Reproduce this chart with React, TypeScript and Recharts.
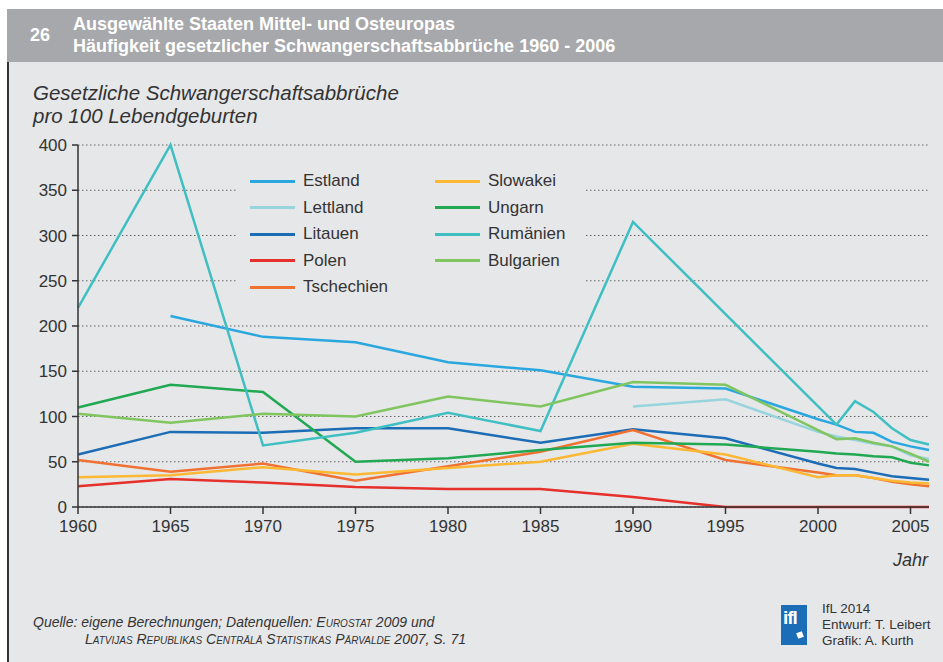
import { LineChart, Line, XAxis, YAxis, CartesianGrid } from "recharts";

const YEARS = [1960, 1965, 1970, 1975, 1980, 1985, 1990, 1995, 2000, 2001, 2002, 2003, 2004, 2005, 2006];

const ESTLAND = [null, 211, 188, 182, 160, 151, 133, 131, 97, 91, 83, 82, 72, 67, 63];
const LETTLAND = [null, null, null, null, null, null, 111, 119, 83, 78, 74, 70, 67, 57, 53];
const LITAUEN = [58, 83, 82, 87, 87, 71, 86, 76, 48, 43, 42, 38, 34, 32, 30];
const POLEN = [23, 31, 27, 22, 20, 20, 11, 0, 0, 0, 0, 0, 0, 0, 0];
const TSCHECHIEN = [52, 39, 48, 29, 45, 61, 85, 52, 38, 35, 35, 32, 28, 25, 23];
const SLOWAKEI = [33, 35, 44, 36, 43, 50, 70, 58, 33, 35, 35, 32, 29, 27, 26];
const UNGARN = [110, 135, 127, 50, 54, 63, 71, 69, 61, 59, 58, 56, 55, 49, 46];
const RUMAENIEN = [220, 400, 68, 82, 104, 84, 315, null, null, 91, 117, 105, 87, 74, 69];
const BULGARIEN = [103, 93, 103, 100, 122, 111, 138, 135, 85, 75, 76, 71, 67, 59, 50];

const X_TICKS = [1960, 1965, 1970, 1975, 1980, 1985, 1990, 1995, 2000, 2005];
const Y_TICKS = [0, 50, 100, 150, 200, 250, 300, 350, 400];

const SERIES = [
  { key: "estland", name: "Estland", color: "#2aa7df", values: ESTLAND },
  { key: "lettland", name: "Lettland", color: "#97d4de", values: LETTLAND },
  { key: "litauen", name: "Litauen", color: "#1c6db5", values: LITAUEN },
  { key: "polen", name: "Polen", color: "#e6302b", values: POLEN },
  { key: "tschechien", name: "Tschechien", color: "#f07233", values: TSCHECHIEN },
  { key: "slowakei", name: "Slowakei", color: "#fcb833", values: SLOWAKEI },
  { key: "ungarn", name: "Ungarn", color: "#20a952", values: UNGARN },
  { key: "rumaenien", name: "Rumänien", color: "#40bfc3", values: RUMAENIEN },
  { key: "bulgarien", name: "Bulgarien", color: "#80c55f", values: BULGARIEN },
];

const data = YEARS.map((year, i) => {
  const row: Record<string, number | null> = { year };
  SERIES.forEach((s) => {
    row[s.key] = s.values[i];
  });
  return row;
});

const FONT = "'Liberation Sans', Arial, sans-serif";
const TEXT = "#333333";
const BG = "#e6e7e9";

// legend sits on a box of the background colour so the grid stops around it
function LegendBox() {
  const col1 = SERIES.slice(0, 5);
  const col2 = SERIES.slice(5);
  const entry = (s: (typeof SERIES)[number]) => (
    <div key={s.key} style={{ display: "flex", alignItems: "center", height: 26.5 }}>
      <div style={{ width: 45, height: 3, background: s.color, marginRight: 8 }} />
      <span style={{ fontSize: 17, color: TEXT, fontFamily: FONT }}>{s.name}</span>
    </div>
  );
  return (
    <div
      style={{
        position: "absolute",
        left: 236,
        top: 160,
        width: 335,
        height: 137,
        background: BG,
        padding: "8px 0 0 14px",
        display: "flex",
        boxSizing: "content-box",
      }}
    >
      <div style={{ width: 185 }}>{col1.map(entry)}</div>
      <div>{col2.map(entry)}</div>
    </div>
  );
}

export default function App() {
  return (
    <div style={{ position: "absolute", left: 0, top: 0, width: 943, height: 662, background: "#ffffff", fontFamily: FONT, overflow: "hidden" }}>
      <div style={{ position: "absolute", left: 7, top: 9, width: 936, height: 53, background: "#a7a8ab" }} />
      <div style={{ position: "absolute", left: 7, top: 62, width: 936, height: 600, background: BG, borderLeft: "2px solid #333" }} />

      <div style={{ position: "absolute", left: 30, top: 25, color: "#fff", fontWeight: "bold", fontSize: 18 }}>26</div>
      <div style={{ position: "absolute", left: 73, top: 13, color: "#fff", fontWeight: "bold", fontSize: 18, lineHeight: "22px" }}>
        <div>Ausgewählte Staaten Mittel- und Osteuropas</div>
        <div>Häufigkeit gesetzlicher Schwangerschaftsabbrüche 1960 - 2006</div>
      </div>

      <div style={{ position: "absolute", left: 33, top: 81, color: TEXT, fontStyle: "italic", fontSize: 20.5, lineHeight: "23px" }}>
        <div>Gesetzliche Schwangerschaftsabbrüche</div>
        <div>pro 100 Lebendgeburten</div>
      </div>

      <div style={{ position: "absolute", left: 0, top: 0 }}>
        <LineChart width={943} height={662} data={data} margin={{ top: 145, right: 14, bottom: 125, left: 0 }}>
          <CartesianGrid horizontal vertical={false} stroke="#666" strokeDasharray="1.5 2.5" />
          <XAxis
            dataKey="year"
            type="number"
            domain={[1960, 2006]}
            ticks={X_TICKS}
            height={30}
            tickSize={7}
            tickMargin={6}
            stroke={TEXT}
            strokeWidth={1.5}
            tick={{ fill: TEXT, fontSize: 17, fontFamily: FONT }}
          />
          <YAxis
            type="number"
            domain={[0, 400]}
            ticks={Y_TICKS}
            width={78}
            tickSize={6}
            tickMargin={5}
            stroke={TEXT}
            strokeWidth={1.5}
            tick={{ fill: TEXT, fontSize: 17, fontFamily: FONT }}
          />
          {SERIES.map((s) => (
            <Line
              key={s.key}
              dataKey={s.key}
              name={s.name}
              stroke={s.color}
              strokeWidth={2.5}
              dot={false}
              connectNulls
              isAnimationActive={false}
            />
          ))}
        </LineChart>
      </div>

      <LegendBox />

      <div style={{ position: "absolute", right: 15, top: 550, color: TEXT, fontStyle: "italic", fontSize: 18 }}>Jahr</div>

      <div style={{ position: "absolute", left: 33, top: 614, color: TEXT, fontStyle: "italic", fontSize: 14, lineHeight: "17px" }}>
        <div>
          Quelle: eigene Berechnungen; Datenquellen: <span style={{ fontVariant: "small-caps" }}>Eurostat</span> 2009 und
        </div>
        <div style={{ paddingLeft: 52 }}>
          <span style={{ fontVariant: "small-caps" }}>Latvijas Republikas Centrālā Statistikas Pārvalde</span> 2007, S. 71
        </div>
      </div>

      <div style={{ position: "absolute", left: 781, top: 605, width: 26, height: 40, background: "#1a6db6", overflow: "hidden" }}>
        <div style={{ position: "absolute", left: 2, top: 2, color: "#fff", fontWeight: "bold", fontSize: 19, letterSpacing: -1 }}>ifl</div>
        <div style={{ position: "absolute", left: 16, top: 27, width: 6, height: 6, background: "#fff", transform: "rotate(-20deg)" }} />
      </div>
      <div style={{ position: "absolute", left: 822, top: 601, color: TEXT, fontSize: 13.5, lineHeight: "16px" }}>
        <div>IfL 2014</div>
        <div>Entwurf: T. Leibert</div>
        <div>Grafik: A. Kurth</div>
      </div>
    </div>
  );
}
